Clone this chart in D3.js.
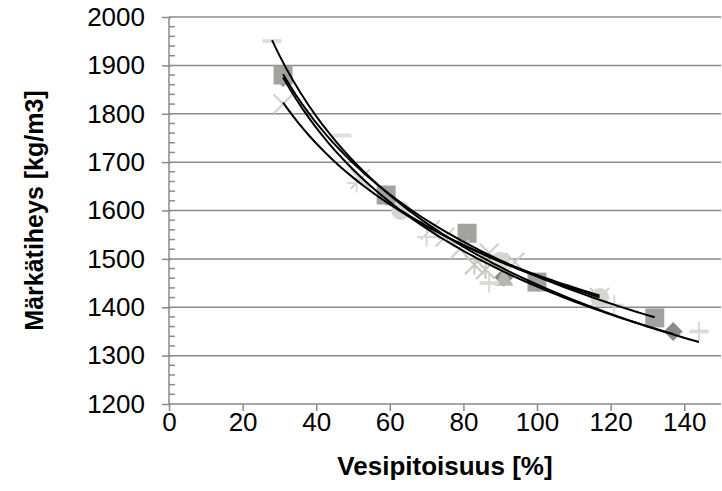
<!DOCTYPE html>
<html>
<head>
<meta charset="utf-8">
<script src="https://cdn.jsdelivr.net/npm/d3@7"></script>
<style>
body { margin: 0; background: #fff; }
text { font-family: Arial, "Liberation Sans", sans-serif; fill: #000; }
</style>
</head>
<body>
<svg id="chart" width="722" height="491"></svg>
<script>
// tick labels
var xTicks = [0, 20, 40, 60, 80, 100, 120, 140];
var yTicks = [1200, 1300, 1400, 1500, 1600, 1700, 1800, 1900, 2000];

// series values (water content %, bulk density kg/m3)
var diamondX = [31, 59, 91, 137];
var diamondY = [1875, 1630, 1462, 1350];
var squareX = [31, 59, 81, 100, 132];
var squareY = [1880, 1632, 1553, 1452, 1378];
var triangleX = [91];
var triangleY = [1460];
var crossX = [31, 52, 71, 75, 79, 87, 94, 117];
var crossY = [1820, 1665, 1560, 1545, 1520, 1512, 1493, 1420];
var starX = [83, 86];
var starY = [1488, 1478];
var circleX = [63, 90, 117];
var circleY = [1600, 1495, 1420];
var dashX = [28, 47, 87, 144];
var dashY = [1950, 1755, 1450, 1350];
var plusX = [51, 70, 87, 121, 144];
var plusY = [1657, 1545, 1450, 1405, 1350];

var seriesList = [
  {shape: "diamond", color: "#8a8a86", x: diamondX, y: diamondY, trend: true},
  {shape: "square", color: "#a2a29e", x: squareX, y: squareY, trend: true},
  {shape: "triangle", color: "#b6b6b0", x: triangleX, y: triangleY, trend: false},
  {shape: "cross", color: "#cfcfca", x: crossX, y: crossY, trend: true},
  {shape: "star", color: "#c8c8c2", x: starX, y: starY, trend: false},
  {shape: "circle", color: "#d6d6d2", x: circleX, y: circleY, trend: true},
  {shape: "dash", color: "#dededa", x: dashX, y: dashY, trend: true},
  {shape: "plus", color: "#d9d9d5", x: plusX, y: plusY, trend: false}
];

var svg = d3.select("#chart");
var plotLeft = 169, plotRight = 721, plotTop = 17, plotBottom = 404;

var x = d3.scaleLinear().domain([0, 150]).range([plotLeft, plotRight]);
var y = d3.scaleLinear().domain([1200, 2000]).range([plotBottom, plotTop]);

var axisColor = "#8a8a8a";

//gridlines
function drawGrid() {
  svg.append("g")
      .selectAll("line")
      .data(yTicks.slice(1))
      .enter().append("line")
      .attr("x1", plotLeft)
      .attr("x2", plotRight)
      .attr("y1", function(d) { return y(d); })
      .attr("y2", function(d) { return y(d); })
      .attr("stroke", axisColor)
      .attr("stroke-width", 1.5);
}

//x axis with ticks going down
function drawXAxis() {
  var g = svg.append("g")
      .attr("transform", "translate(0," + plotBottom + ")")
      .call(d3.axisBottom(x).tickValues(xTicks).tickSize(7).tickPadding(2).tickFormat(d3.format("d")));
  g.select(".domain").attr("stroke", axisColor).attr("stroke-width", 1.5).attr("d", "M" + plotLeft + ",0H" + plotRight);
  g.selectAll(".tick line").attr("stroke", axisColor).attr("stroke-width", 1.5);
  g.selectAll("text")
      .style("font-size", "26px")
      .attr("fill", "#000");
}

//y axis, major ticks cross and minor ticks inside
function drawYAxis() {
  var minor = d3.range(1200, 2001, 20).filter(function(d) { return d % 100 != 0; });
  svg.append("g")
      .selectAll("line")
      .data(minor)
      .enter().append("line")
      .attr("x1", plotLeft)
      .attr("x2", plotLeft + 6)
      .attr("y1", function(d) { return y(d); })
      .attr("y2", function(d) { return y(d); })
      .attr("stroke", axisColor)
      .attr("stroke-width", 1.5);

  var g = svg.append("g")
      .attr("transform", "translate(" + plotLeft + ",0)")
      .call(d3.axisLeft(y).tickValues(yTicks).tickSize(7).tickPadding(17).tickFormat(d3.format("d")));
  g.select(".domain").attr("stroke", axisColor).attr("stroke-width", 1.5).attr("d", "M0," + plotTop + "V" + plotBottom);
  g.selectAll(".tick line").attr("stroke", axisColor).attr("stroke-width", 1.5).attr("x2", -7).attr("x1", 2);
  g.selectAll("text")
      .style("font-size", "26px")
      .attr("fill", "#000");
}

//marker shapes, h is half size
function markerPath(shape, h) {
  if (shape == "square") return "M" + -h + "," + -h + "H" + h + "V" + h + "H" + -h + "Z";
  if (shape == "diamond") return "M0," + -h + "L" + h + ",0L0," + h + "L" + -h + ",0Z";
  if (shape == "triangle") return "M0," + -h + "L" + h + "," + h * 0.8 + "L" + -h + "," + h * 0.8 + "Z";
  if (shape == "circle") return "M" + -h + ",0A" + h + "," + h + " 0 1,0 " + h + ",0A" + h + "," + h + " 0 1,0 " + -h + ",0Z";
  if (shape == "cross") return "M" + -h + "," + -h + "L" + h + "," + h + "M" + -h + "," + h + "L" + h + "," + -h;
  if (shape == "plus") return "M" + -h + ",0H" + h + "M0," + -h + "V" + h;
  if (shape == "star") return "M" + -h + "," + -h + "L" + h + "," + h + "M" + -h + "," + h + "L" + h + "," + -h + "M0," + -h + "V" + h;
  if (shape == "dash") return "M" + -h + ",0H" + h;
}

var filled = {square: true, diamond: true, triangle: true, circle: true};

//draws markers for every series
function drawMarkers() {
  seriesList.forEach(function(s) {
    var pts = s.x.map(function(v, i) { return [v, s.y[i]]; });
    svg.append("g")
        .selectAll("path")
        .data(pts)
        .enter().append("path")
        .attr("transform", function(d) { return "translate(" + x(d[0]) + "," + y(d[1]) + ")"; })
        .attr("d", markerPath(s.shape, 9.5))
        .attr("fill", filled[s.shape] ? s.color : "none")
        .attr("stroke", filled[s.shape] ? "none" : s.color)
        .attr("stroke-width", s.shape == "dash" ? 4 : 2);
  });
}

//power trendline y = a*x^b, least squares in log space like excel
function drawTrends() {
  var line = d3.line()
      .x(function(d) { return x(d[0]); })
      .y(function(d) { return y(d[1]); });
  seriesList.filter(function(s) { return s.trend; }).forEach(function(s) {
    var lx = s.x.map(Math.log), ly = s.y.map(Math.log);
    var mx = d3.mean(lx), my = d3.mean(ly);
    var num = d3.sum(lx, function(v, i) { return (v - mx) * (ly[i] - my); });
    var den = d3.sum(lx, function(v) { return (v - mx) * (v - mx); });
    var b = num / den, a = Math.exp(my - b * mx);
    var x0 = d3.min(s.x), x1 = d3.max(s.x);
    var pts = d3.range(0, 61).map(function(i) {
      var xv = x0 + (x1 - x0) * i / 60;
      return [xv, a * Math.pow(xv, b)];
    });
    svg.append("path")
        .attr("d", line(pts))
        .attr("fill", "none")
        .attr("stroke", "#000")
        .attr("stroke-width", 2);
  });
}

//axis titles
function drawTitles() {
  svg.append("text")
      .attr("x", (plotLeft + plotRight) / 2)
      .attr("y", 475)
      .style("text-anchor", "middle")
      .style("font-size", "26px")
      .style("font-weight", "bold")
      .text("Vesipitoisuus [%]");
  svg.append("text")
      .attr("transform", "translate(43," + (plotTop + plotBottom) / 2 + ") rotate(-90)")
      .style("text-anchor", "middle")
      .style("font-size", "25px")
      .style("font-weight", "bold")
      .text("Märkätiheys [kg/m3]");
}

drawGrid();
drawMarkers();
drawTrends();
drawXAxis();
drawYAxis();
drawTitles();
</script>
</body>
</html>
